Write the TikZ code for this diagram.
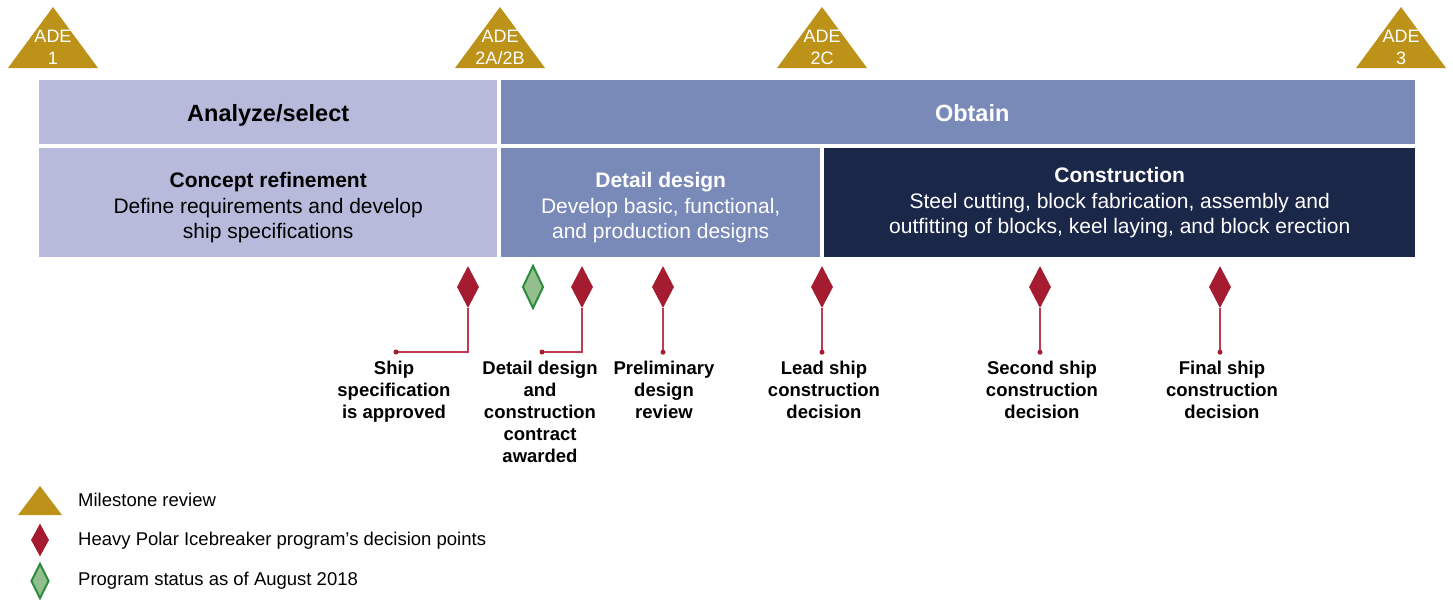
\documentclass[tikz,border=0pt]{standalone}
\usepackage{fontspec}
\setmainfont{Liberation Sans}
\usetikzlibrary{shapes.geometric}

\definecolor{adegold}{RGB}{188,146,24}
\definecolor{lavender}{RGB}{183,186,219}
\definecolor{obtainblue}{RGB}{121,138,185}
\definecolor{navy}{RGB}{27,39,73}
\definecolor{decred}{RGB}{165,28,48}
\definecolor{leadred}{RGB}{192,58,80}
\definecolor{statgreen}{RGB}{147,191,143}
\definecolor{statedge}{RGB}{46,139,62}

\begin{document}
\begin{tikzpicture}[x=1pt,y=-1pt,
  phase/.style={anchor=north west,inner sep=0pt,text height=20pt,text depth=2pt,font=\bfseries\fontsize{23.5}{27}\selectfont},
  stage/.style={anchor=north west,inner sep=0pt,align=center,font=\fontsize{21}{25.5}\selectfont},
  decision/.style={diamond,fill=decred,inner sep=0pt,minimum width=22,minimum height=42},
  status/.style={diamond,fill=statgreen,draw=statedge,line width=2pt,inner sep=0pt,minimum width=21,minimum height=43},
  lead/.style={draw=leadred,line width=1.2pt},
  dot/.style={circle,fill=decred,inner sep=0pt,minimum size=5},
  caption/.style={anchor=north,inner sep=0pt,align=center,font=\bfseries\fontsize{18.5}{22}\selectfont},
  adetext/.style={text=white,align=center,inner sep=0pt,font=\fontsize{18}{22}\selectfont},
  legend/.style={anchor=west,inner sep=0pt,font=\fontsize{18.5}{20}\selectfont}]
\useasboundingbox (0,0) rectangle (1453,603);

%Milestone reviews
\foreach \x/\lab [count=\i] in {53/{ADE\\1},500/{ADE\\2A/2B},822/{ADE\\2C},1401/{ADE\\3}}{
  \fill[adegold] (\x-45,68) -- (\x,7) -- (\x+45,68) -- cycle;
  \node[adetext] (ade\i) at (\x,47) {\lab};
}

%Phases
\node[phase,fill=lavender,minimum width=458,minimum height=64] (analyze) at (39,80) {Analyze/select};
\node[phase,fill=obtainblue,text=white,minimum width=914,minimum height=64] (obtain) at (501,80) {\hspace*{28pt}Obtain};

%Stages
\node[stage,fill=lavender,minimum width=458,minimum height=109] (concept) at (39,148) {\rule{0pt}{25pt}\textbf{Concept refinement}\\Define requirements and develop\\ship specifications};
\node[stage,fill=obtainblue,text=white,minimum width=319,minimum height=109] (detail) at (501,148) {\rule{0pt}{25pt}\textbf{Detail design}\\Develop basic, functional,\\and production designs};
\node[stage,fill=navy,text=white,minimum width=591,minimum height=109] (construct) at (824,148) {\textbf{Construction}\\Steel cutting, block fabrication, assembly and\\outfitting of blocks, keel laying, and block erection};

%Decision points
\node[decision] (ship) at (468,287) {};
\node[status] (status) at (533,287) {};
\node[decision] (contract) at (582,287) {};
\node[decision] (prelim) at (663,287) {};
\node[decision] (leadship) at (822,287) {};
\node[decision] (second) at (1040,287) {};
\node[decision] (final) at (1220,287) {};

%Leaders
\coordinate (ship-end) at (396,352);
\coordinate (contract-end) at (542,352);
\draw[lead] (ship.south) |- (ship-end);
\draw[lead] (contract.south) |- (contract-end);
\node[dot] (ship-dot) at (ship-end) {};
\node[dot] (contract-dot) at (contract-end) {};
\foreach \n in {prelim,leadship,second,final}{
  \draw[lead] (\n.south) -- ++(0,44) coordinate (\n-end);
  \node[dot] (\n-dot) at (\n-end) {};
}

% Text Node
\node[caption] (ship-lbl) at (394,361) {Ship\\specification\\is approved};
\node[caption] (contract-lbl) at (540,361) {Detail design\\and\\construction\\contract\\awarded};
\node[caption] (prelim-lbl) at (664,361) {Preliminary\\design\\review};
\node[caption] (leadship-lbl) at (824,361) {Lead ship\\construction\\decision};
\node[caption] (second-lbl) at (1042,361) {Second ship\\construction\\decision};
\node[caption] (final-lbl) at (1222,361) {Final ship\\construction\\decision};

%Legend
\fill[adegold] (18,515) -- (40,486) -- (62,515) -- cycle;
\node[decision,minimum width=18,minimum height=33] (key-dec) at (40,540) {};
\node[status,minimum width=18,minimum height=35] (key-stat) at (40,581) {};
\node[legend] (key-ms-txt) at (78,500) {Milestone review};
\node[legend] (key-dec-txt) at (78,541) {Heavy Polar Icebreaker program’s decision points};
\node[legend] (key-stat-txt) at (78,581) {Program status as of August 2018};

\end{tikzpicture}
\end{document}
